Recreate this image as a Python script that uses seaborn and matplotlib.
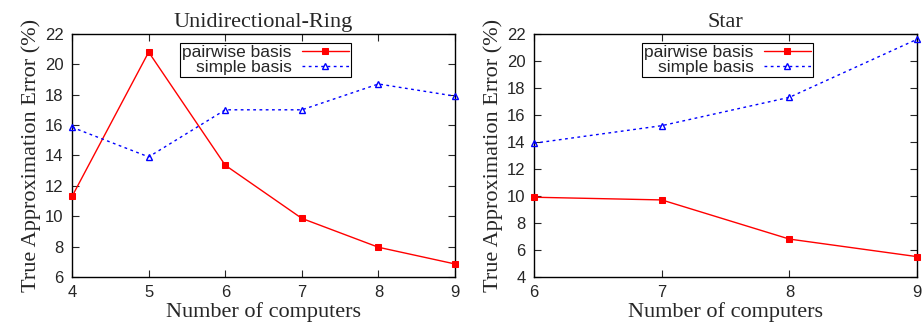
import matplotlib
matplotlib.use("Agg")
import matplotlib.pyplot as plt
import seaborn as sns
import pandas as pd

# Unidirectional-Ring
ring_n = [4, 5, 6, 7, 8, 9]
ring_pairwise = [11.3, 20.8, 13.35, 9.85, 7.95, 6.85]
ring_simple = [15.85, 13.9, 17.0, 17.0, 18.7, 17.9]

# Star
star_n = [6, 7, 8, 9]
star_pairwise = [9.9, 9.7, 6.8, 5.5]
star_simple = [13.9, 15.2, 17.3, 21.6]

sns.set_style("ticks")
plt.rcParams['font.family'] = ['Liberation Sans', 'DejaVu Sans']
serif = ['Liberation Serif', 'DejaVu Serif']

fig = plt.figure(figsize=(9.24, 3.32), dpi=100)
ax1 = fig.add_axes([0.078, 0.166, 0.4145, 0.732])
ax2 = fig.add_axes([0.578, 0.166, 0.4145, 0.732])


def draw(ax, n, pw, sb, title, ylim, yticks):
    df = pd.DataFrame({'n': n, 'pw': pw, 'sb': sb})
    sns.lineplot(data=df, x='n', y='pw', ax=ax, color='#ff0000', lw=1.0,
                 marker='s', markersize=5, markeredgecolor='#ff0000',
                 label='pairwise basis', clip_on=False, zorder=3)
    sns.lineplot(data=df, x='n', y='sb', ax=ax, color='#0000ff', lw=1.0,
                 linestyle=(0, (2, 2.5)), marker='^', markersize=5,
                 markerfacecolor='none', markeredgecolor='#0000ff',
                 markeredgewidth=1.0, label='simple basis', clip_on=False,
                 zorder=3)
    ax.set_xlim(n[0], n[-1])
    ax.set_ylim(*ylim)
    ax.set_xticks(n)
    ax.set_yticks(yticks)
    ax.tick_params(direction='in', top=True, right=True, length=5,
                   width=0.8, labelsize=12, pad=6)
    for s in ax.spines.values():
        s.set_visible(True)
        s.set_linewidth(1.0)
        s.set_color('black')
    ax.set_title(title, family=serif, fontsize=16, pad=5)
    ax.set_xlabel('Number of computers', family=serif, fontsize=16, labelpad=1)
    ax.set_ylabel('True Approximation Error (%)', family=serif, fontsize=16,
                  labelpad=3)
    leg = ax.legend(loc='upper center', bbox_to_anchor=(0.505, 0.975),
                    markerfirst=False, fontsize=12.5, frameon=True,
                    fancybox=False, edgecolor='black', framealpha=1,
                    borderpad=0.1, labelspacing=0.0, handlelength=2.7,
                    handletextpad=0.6, borderaxespad=0.2)
    leg.get_frame().set_linewidth(0.8)


draw(ax1, ring_n, ring_pairwise, ring_simple, 'Unidirectional-Ring',
     (6, 22), list(range(6, 23, 2)))
draw(ax2, star_n, star_pairwise, star_simple, 'Star',
     (4, 22), list(range(4, 23, 2)))

fig.savefig('out.png', dpi=100)
